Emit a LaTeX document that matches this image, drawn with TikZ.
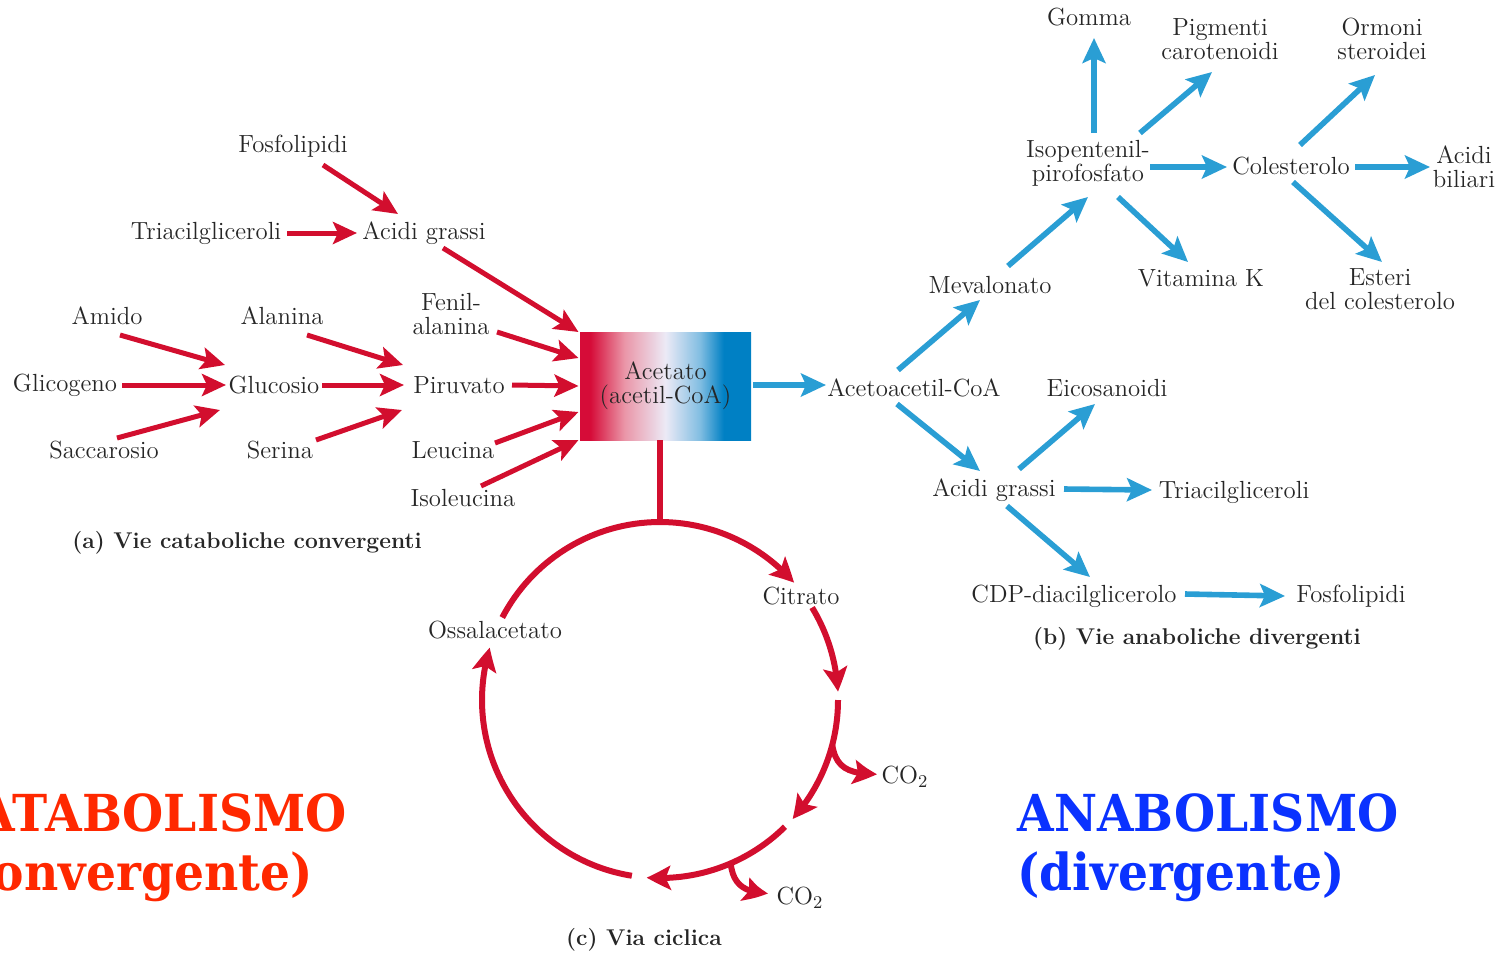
\documentclass[tikz,border=0pt]{standalone}
\usepackage{fontspec}
\newfontfamily\titlefont{DejaVu Serif}
\usetikzlibrary{arrows.meta, bending, calc}
\definecolor{catred}{RGB}{210, 14, 46}
\definecolor{anablue}{RGB}{42, 158, 212}
\definecolor{bigred}{RGB}{255, 40, 0}
\definecolor{bigblue}{RGB}{10, 50, 255}
\definecolor{boxred}{RGB}{214, 12, 56}
\definecolor{boxpink}{RGB}{234, 150, 168}
\definecolor{boxmid}{RGB}{236, 234, 246}
\definecolor{boxlight}{RGB}{130, 190, 226}
\definecolor{boxblue}{RGB}{0, 128, 196}
\pgfdeclarehorizontalshading{acetil}{100bp}{color(0bp)=(boxred); color(28bp)=(boxred);
  color(38bp)=(boxpink); color(50bp)=(boxmid); color(60bp)=(boxlight);
  color(67bp)=(boxblue); color(100bp)=(boxblue)}
\newcommand{\bigtxt}[1]{\scalebox{1}[1.08]{#1}}

\begin{document}
\begin{tikzpicture}[
  x=0.5pt, y=-0.5pt,
  every node/.style={font=\fontsize{12.4}{11.8}\selectfont, text=black!85, inner sep=1pt, align=center},
  caption/.style={font=\fontsize{11.4}{12}\selectfont\bfseries},
  big/.style={font=\titlefont\fontsize{23.6}{24}\selectfont\bfseries, inner sep=0pt},
  rarr/.style={-{Stealth[length=12pt, width=11pt, inset=2.5pt]}, line width=2.5pt, draw=catred},
  barr/.style={-{Stealth[length=12.5pt, width=11.5pt, inset=2.5pt]}, line width=2.8pt, draw=anablue},
  ring/.style={line width=3pt, draw=catred},
  ringarr/.style={ring, -{Stealth[length=12pt, width=12pt, inset=2.5pt, bend]}}
]
  \useasboundingbox (0,0) rectangle (1503,954);

  % (a) vie cataboliche
  \node (fosfoA) at (293,146) {Fosfolipidi};
  \node (triacA) at (206,233) {Triacilgliceroli};
  \node (grassiA) at (424,233) {Acidi grassi};
  \node (amido) at (107,316) {Amido};
  \node (glicogeno) at (65,385) {Glicogeno};
  \node (saccarosio) at (104,450) {Saccarosio};
  \node (glucosio) at (274,385) {Glucosio};
  \node (alanina) at (282,316) {Alanina};
  \node (serina) at (280,450) {Serina};
  \node (piruvato) at (459,385) {Piruvato};
  \node (fenil) at (451,314) {Fenil-\\alanina};
  \node (leucina) at (453,450) {Leucina};
  \node (isoleu) at (463,498) {Isoleucina};
  \node (capA) [caption] at (247,543) {(a) Vie cataboliche convergenti};

  % box centrale
  \node[shade, shading=acetil, minimum width=85.5pt, minimum height=54pt] (acetato) at (665.5,386) {Acetato\\(acetil-CoA)};

  \draw[rarr] ($(fosfoA)+(30,19)$) -- ($(grassiA)+(-26,-19)$);
  \draw[rarr] ($(triacA)+(81,0)$) -- ($(grassiA)+(-67,0)$);
  \draw[rarr] ($(grassiA)+(19,15)$) -- ($(acetato)+(-87,-54)$);
  \draw[rarr] ($(amido)+(13,19)$) -- ($(glucosio)+(-49,-20)$);
  \draw[rarr] ($(glicogeno)+(57,0)$) -- ($(glucosio)+(-48,0)$);
  \draw[rarr] ($(saccarosio)+(13,-12)$) -- ($(glucosio)+(-54,25)$);
  \draw[rarr] ($(alanina)+(25,19)$) -- ($(piruvato)+(-56,-20)$);
  \draw[rarr] ($(glucosio)+(48,0)$) -- ($(piruvato)+(-55,0)$);
  \draw[rarr] ($(serina)+(36,-10)$) -- ($(piruvato)+(-57,25)$);
  \draw[rarr] ($(fenil)+(46,18)$) -- ($(acetato)+(-87,-28)$);
  \draw[rarr] ($(piruvato)+(53,0)$) -- ($(acetato)+(-87,0)$);
  \draw[rarr] ($(leucina)+(42,-7)$) -- ($(acetato)+(-87,26)$);
  \draw[rarr] ($(isoleu)+(18,-12)$) -- ($(acetato)+(-87,54)$);

  % (c) via ciclica
  \coordinate (ctr) at (660,700);
  \node (citrato) at (801,596) {Citrato};
  \node (ossal) at (495,630) {Ossalacetato};
  \node (coA) at (905,777) {CO$_2$};
  \node (coB) at (800,898) {CO$_2$};
  \node (capC) [caption] at (644,940) {(c) Via ciclica};

  \draw[ring] ($(acetato.south)+(-5.5,0)$) -- ($(ctr)+(-90:178)$);
  \draw[ringarr] ($(ctr)+(-152.4:178)$) arc[start angle=152.4, end angle=41.2, radius=89pt];
  \draw[ringarr] ($(ctr)+(-31.3:178)$) arc[start angle=31.3, end angle=2.7, radius=89pt];
  \draw[ringarr] ($(ctr)+(0:178)$) arc[start angle=0, end angle=-41.9, radius=89pt];
  \draw[ringarr] ($(ctr)+(45.4:178)$) arc[start angle=-45.4, end angle=-94.3, radius=89pt];
  \draw[ringarr] ($(ctr)+(99.1:178)$) arc[start angle=-99.1, end angle=-197.1, radius=89pt];
  \draw[ringarr] ($(ctr)+(14.6:178)$) .. controls ($(coA)+(-69,-8)$) and ($(coA)+(-55,-3)$) .. ($(coA)+(-28,-3)$);
  \draw[ringarr] ($(ctr)+(66.6:178)$) .. controls ($(coB)+(-67,-13)$) and ($(coB)+(-55,-5)$) .. ($(coB)+(-32,-5)$);

  % (b) vie anaboliche
  \node (acetoac) at (914,388) {Acetoacetil-CoA};
  \node (meval) at (990,285) {Mevalonato};
  \node (ipp) at (1088,163) {Isopentenil-\\pirofosfato};
  \node (gomma) at (1089,17) {Gomma};
  \node (pigm) at (1220,39) {Pigmenti\\carotenoidi};
  \node (coles) at (1291,166) {Colesterolo};
  \node (vitk) at (1201,278) {Vitamina K};
  \node (ormoni) at (1382,39) {Ormoni\\steroidei};
  \node (biliari) at (1464,167) {Acidi\\biliari};
  \node (esteri) at (1380,289) {Esteri\\del colesterolo};
  \node (grassiB) at (994,490) {Acidi grassi};
  \node (eicos) at (1107,388) {Eicosanoidi};
  \node (triacB) at (1234,492) {Triacilgliceroli};
  \node (cdp) at (1074,596) {CDP-diacilglicerolo};
  \node (fosfoB) at (1351,596) {Fosfolipidi};
  \node (capB) [caption] at (1197,639) {(b) Vie anaboliche divergenti};

  \draw[barr] ($(acetato.east)+(2,-1)$) -- ($(acetoac)+(-88,-3)$);
  \draw[barr] ($(acetoac)+(-16,-18)$) -- ($(meval)+(-10,15)$);
  \draw[barr] ($(meval)+(18,-19)$) -- ($(ipp)+(0,34)$);
  \draw[barr] ($(ipp)+(6,-30)$) -- ($(gomma)+(5,21)$);
  \draw[barr] ($(ipp)+(52,-30)$) -- ($(pigm)+(-8,33)$);
  \draw[barr] ($(ipp)+(62,4)$) -- ($(coles)+(-64,1)$);
  \draw[barr] ($(ipp)+(30,34)$) -- ($(vitk)+(-13,-16)$);
  \draw[barr] ($(coles)+(9,-21)$) -- ($(ormoni)+(-7,36)$);
  \draw[barr] ($(coles)+(64,1)$) -- ($(biliari)+(-34,0)$);
  \draw[barr] ($(coles)+(2,16)$) -- ($(esteri)+(2,-27)$);
  \draw[barr] ($(acetoac)+(-17,16)$) -- ($(grassiB)+(-14,-19)$);
  \draw[barr] ($(grassiB)+(25,-21)$) -- ($(eicos)+(-12,16)$);
  \draw[barr] ($(grassiB)+(70,-1)$) -- ($(triacB)+(-82,-2)$);
  \draw[barr] ($(grassiB)+(13,16)$) -- ($(cdp)+(16,-19)$);
  \draw[barr] ($(cdp)+(111,-2)$) -- ($(fosfoB)+(-66,0)$);

  % scritte grandi
  \node[big, text=bigred, anchor=base east] (catab) at (347,831) {\bigtxt{CATABOLISMO}};
  \node[big, text=bigred, anchor=base east] (catabsub) at (313,890) {\bigtxt{(convergente)}};
  \node[big, text=bigblue, anchor=base west] (anab) at (1017,831) {\bigtxt{ANABOLISMO}};
  \node[big, text=bigblue, anchor=base west] (anabsub) at (1017,890) {\bigtxt{(divergente)}};
\end{tikzpicture}
\end{document}
